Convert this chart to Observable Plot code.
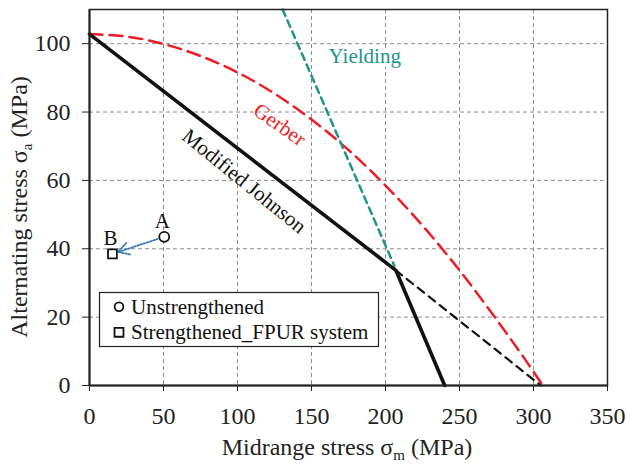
<!DOCTYPE html>
<html><head><meta charset="utf-8">
<script src="https://cdn.jsdelivr.net/npm/d3@7"></script>
<script src="https://cdn.jsdelivr.net/npm/@observablehq/plot@0.6"></script>
<style>body{margin:0;background:#fff} svg text{font-family:"Liberation Serif","Times New Roman",serif}</style>
</head><body><div id="chart"></div>
<script>
const xTicks = [0, 50, 100, 150, 200, 250, 300, 350];
const yTicks = [0, 20, 40, 60, 80, 100];

const johnsonX = [0, 207, 240];
const johnsonY = [102.8, 33.7, 0];

const goodmanX = [207, 305];
const goodmanY = [33.7, 0];

const gerberX = [0, 25, 50, 75, 100, 125, 150, 175, 200, 225, 250, 275, 295, 305.5];
const gerberY = [102.8, 102.1, 99.9, 96.4, 91.6, 85.4, 77.8, 68.9, 58.5, 46.8, 33.7, 19.3, 7.2, 0.5];

const yieldX = [130.5, 206];
const yieldY = [110, 35];

const pointNames = ["A", "B"];
const pointX = [50.5, 15.5];
const pointY = [43.5, 38.5];
const pointSymbols = ["circle", "square"];

const legendLabels = ["Unstrengthened", "Strengthened_FPUR system"];

const curveLabels = ["Yielding", "Gerber", "Modified Johnson"];
const curveLabelX = [186, 128.5, 104.5];
const curveLabelY = [96.2, 76.3, 59.8];

const FONT = '"Liberation Serif", "Times New Roman", serif';
const RED = "#ee1c25", TEAL = "#21958a", BLUE = "#2e75b6";

const line = (xs, ys) => xs.map((x, i) => ({x, y: ys[i]}));
const pts = pointNames.map((n, i) => ({n, x: pointX[i], y: pointY[i], s: pointSymbols[i]}));

const chart = Plot.plot({
  width: 627, height: 466,
  marginLeft: 89, marginRight: 20, marginTop: 9, marginBottom: 81,
  style: {fontFamily: FONT, background: "#fff", color: "#222"},
  x: {domain: [0, 350]},
  y: {domain: [0, 110]},
  symbol: {domain: ["circle", "square"], range: ["circle", "square"]},
  marks: [
    Plot.gridX(xTicks.slice(1, -1), {stroke: "#8c8c8c", strokeOpacity: 1, strokeDasharray: "4,3", strokeWidth: 1}),
    Plot.gridY(yTicks.slice(1), {stroke: "#8c8c8c", strokeOpacity: 1, strokeDasharray: "4,3", strokeWidth: 1}),
    Plot.axisX({ticks: xTicks, tickSize: 6, tickPadding: 15, fontSize: 24, fontFamily: FONT, label: null, stroke: "#222", fill: "#222"}),
    Plot.axisY({ticks: yTicks, tickSize: 7, tickPadding: 12, fontSize: 24, fontFamily: FONT, label: null, stroke: "#222", fill: "#222"}),
    Plot.text([{t: curveLabels[0], x: curveLabelX[0], y: curveLabelY[0]}],
      {x: "x", y: "y", text: "t", fill: TEAL, fontSize: 21, fontFamily: FONT, stroke: "white", strokeWidth: 8}),
    Plot.line(line(gerberX, gerberY), {x: "x", y: "y", stroke: RED, strokeWidth: 2.5, strokeDasharray: "13,7", curve: "catmull-rom"}),
    Plot.line(line(yieldX, yieldY), {x: "x", y: "y", stroke: TEAL, strokeWidth: 2.5, strokeDasharray: "7,5"}),
    Plot.line(line(goodmanX, goodmanY), {x: "x", y: "y", stroke: "#111", strokeWidth: 2.2, strokeDasharray: "8,6"}),
    Plot.line(line(johnsonX, johnsonY), {x: "x", y: "y", stroke: "#111", strokeWidth: 3.6}),
    Plot.text([{t: curveLabels[1], x: curveLabelX[1], y: curveLabelY[1]}],
      {x: "x", y: "y", text: "t", fill: RED, fontSize: 21, fontFamily: FONT, rotate: 35}),
    Plot.text([{t: curveLabels[2], x: curveLabelX[2], y: curveLabelY[2]}],
      {x: "x", y: "y", text: "t", fill: "#111", fontSize: 21, fontFamily: FONT, rotate: 39}),
    Plot.arrow([{x1: pointX[0], y1: pointY[0], x2: pointX[1], y2: pointY[1]}],
      {x1: "x1", y1: "y1", x2: "x2", y2: "y2", stroke: BLUE, strokeWidth: 1.8, strokeDasharray: "1.5,1.8", insetStart: 7, insetEnd: 6, headLength: 10, bend: 0}),
    Plot.dot(pts, {x: "x", y: "y", symbol: "s", r: 5, stroke: "#111", strokeWidth: 1.8, fill: "white"}),
    Plot.text(pts, {x: "x", y: "y", text: "n", dy: -16, dx: -2, fontSize: 21, fontFamily: FONT, fill: "#111"}),
    Plot.frame({stroke: "#222", strokeWidth: 1.5}),
    Plot.ruleX([0], {stroke: "#222", strokeWidth: 2}),
    Plot.ruleY([0], {stroke: "#222", strokeWidth: 2})
  ]
});

const svg = d3.select(chart);
// axis titles
const xl = svg.append("text").attr("x", 347).attr("y", 455).attr("text-anchor", "middle")
  .attr("font-size", 24).attr("fill", "#222").attr("font-family", FONT);
xl.append("tspan").text("Midrange stress σ");
xl.append("tspan").attr("font-size", 15).attr("dy", 5).text("m");
xl.append("tspan").attr("dy", -5).text(" (MPa)");

const yl = svg.append("text").attr("transform", "translate(27,207) rotate(-90)").attr("text-anchor", "middle")
  .attr("font-size", 24).attr("fill", "#222").attr("font-family", FONT);
yl.append("tspan").text("Alternating stress σ");
yl.append("tspan").attr("font-size", 15).attr("dy", 5).text("a");
yl.append("tspan").attr("dy", -5).text(" (MPa)");

// legend
const lg = svg.append("g").attr("font-family", FONT).attr("font-size", 21).attr("fill", "#111");
lg.append("rect").attr("x", 99.5).attr("y", 292.5).attr("width", 279).attr("height", 54)
  .attr("fill", "white").attr("stroke", "#222").attr("stroke-width", 1.2);
legendLabels.forEach((t, i) => {
  const cy = 306.7 + i * 25.6;
  const sym = d3.symbol().type(i === 0 ? d3.symbolCircle : d3.symbolSquare).size(i === 0 ? 60 : 80);
  lg.append("path").attr("d", sym()).attr("transform", `translate(119,${cy})`)
    .attr("fill", "white").attr("stroke", "#111").attr("stroke-width", 1.8);
  lg.append("text").attr("x", 131).attr("y", cy + 6.8).attr("text-anchor", "start").text(t);
});

document.getElementById("chart").append(chart);
</script>
</body></html>
